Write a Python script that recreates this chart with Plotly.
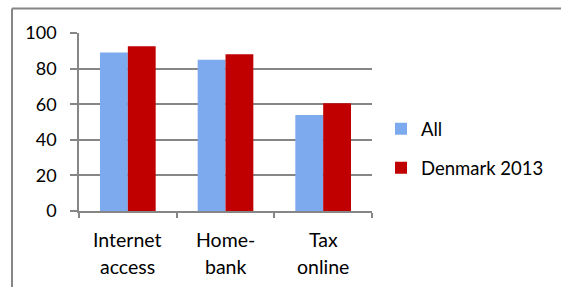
import plotly.graph_objects as go

categories = ["Internet access", "Home-bank", "Tax online"]
label_line1 = ["Internet", "Home-", "Tax"]
label_line2 = ["access", "bank", "online"]
all_values = [89, 85, 54]
denmark_values = [92.5, 88, 60.5]
y_ticks = [0, 20, 40, 60, 80, 100]

W, H = 561, 287
L, R, T, B = 79, 189, 33, 75.5
pw = W - L - R
ph = H - T - B

FONT = "Lato"
GRAY = "#868686"

fig = go.Figure()
fig.add_trace(go.Bar(x=categories, y=all_values, name="All",
                     marker=dict(color="#7DAAEE", line=dict(width=0)),
                     legendgroup="a"))
fig.add_trace(go.Bar(x=categories, y=denmark_values, name="Denmark 2013",
                     marker=dict(color="#C00000", line=dict(width=0)),
                     legendgroup="b"))

# category labels as two rows
for c, l1, l2 in zip(categories, label_line1, label_line2):
    fig.add_annotation(x=c, xref="x", y=-(240 - (T + ph)) / ph, yref="paper",
                       text=l1, showarrow=False, yanchor="middle",
                       font=dict(family=FONT, size=19.5, color="#000"))
    fig.add_annotation(x=c, xref="x", y=-(267 - (T + ph)) / ph, yref="paper",
                       text=l2, showarrow=False, yanchor="middle",
                       font=dict(family=FONT, size=19.5, color="#000"))

# outer frame (top and left edges)
fx = (12 - L) / pw
fy = 1 + (T - 8.5) / ph
fig.add_shape(type="line", xref="paper", yref="paper", x0=fx, x1=(W - L) / pw,
              y0=fy, y1=fy, line=dict(color=GRAY, width=2))
fig.add_shape(type="line", xref="paper", yref="paper", x0=fx, x1=fx,
              y0=fy, y1=-(H - T - ph) / ph - 0.05, line=dict(color=GRAY, width=2))

fig.update_layout(
    width=W, height=H,
    margin=dict(l=L, r=R, t=T, b=B),
    paper_bgcolor="white", plot_bgcolor="white",
    barmode="group", bargap=0.43, bargroupgap=0,
    font=dict(family=FONT, size=19, color="#000"),
    showlegend=True,
    legend=dict(x=(381 - L) / pw, xanchor="left", y=1 - (149 - T) / ph,
                yanchor="middle",
                font=dict(family=FONT, size=18.5), tracegroupgap=12,
                itemwidth=30, bgcolor="rgba(0,0,0,0)"),
    xaxis=dict(showticklabels=False, ticks="outside", tickson="boundaries",
               ticklen=5, tickcolor=GRAY, tickwidth=1.5,
               showline=True, linecolor=GRAY, linewidth=1.5, showgrid=False),
    yaxis=dict(range=[0, 100], tickvals=y_ticks, ticks="outside", ticklen=7,
               tickcolor=GRAY, tickwidth=1.5, showline=True, linecolor=GRAY,
               linewidth=1.5, showgrid=True, gridcolor=GRAY, gridwidth=1.5,
               zeroline=False, ticklabelstandoff=10,
               tickfont=dict(family=FONT, size=18)),
)

fig.write_html("out.html", config={"displayModeBar": False},
               post_script="document.body.style.margin='0';")
